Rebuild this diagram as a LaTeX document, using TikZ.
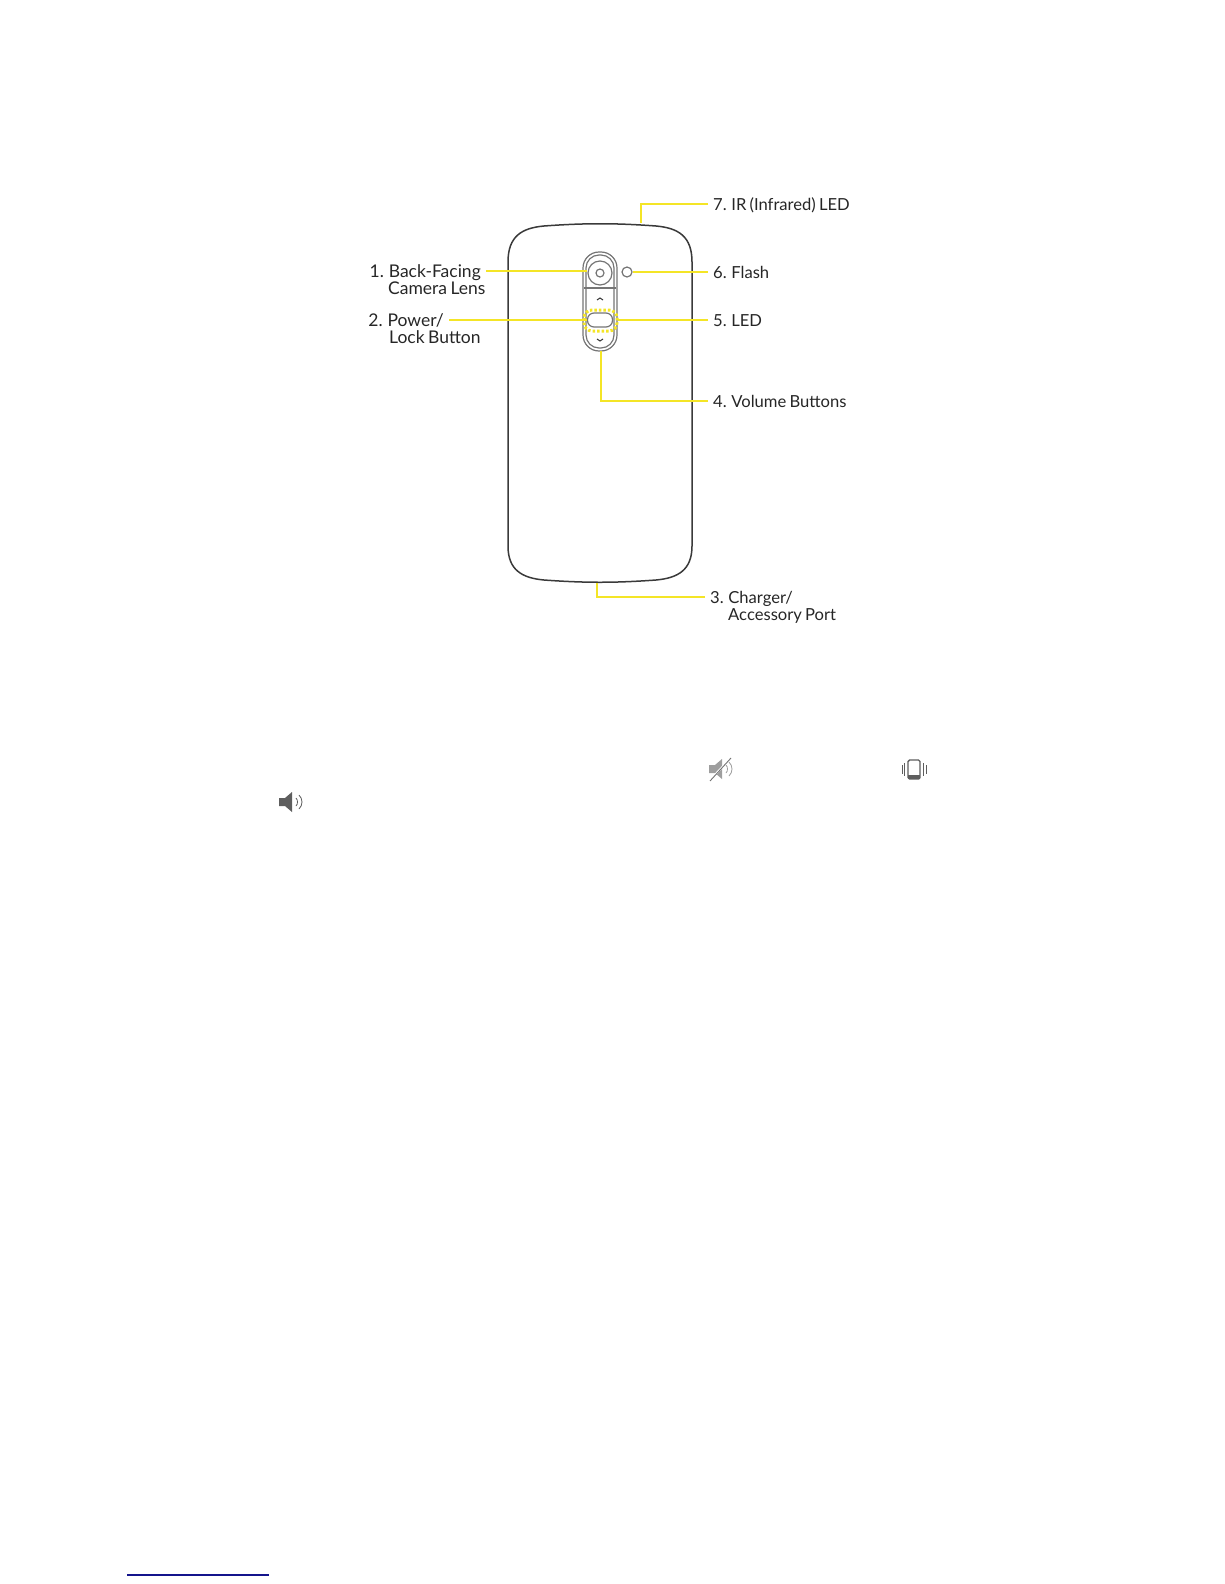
\documentclass[tikz,border=0pt]{standalone}
\usepackage{fontspec}
\setmainfont[WordSpace=0.75]{Lato}
\usepackage{tikz}
\usetikzlibrary{positioning, calc}
\definecolor{ledyellow}{HTML}{F4E526}
\definecolor{phonegrey}{HTML}{3A3A3A}
\definecolor{icongrey}{HTML}{5E5E5E}
\definecolor{linknavy}{HTML}{14148C}
\tikzset{
  ledline/.style={draw=ledyellow, line width=2.7pt},
  partline/.style={draw=phonegrey!70, line width=1.2pt},
  calltext/.style={inner xsep=5pt, inner ysep=0pt, text height=14pt, text depth=1pt, text=black!85, font=\fontsize{17.5}{20}\selectfont},
  callright/.style={calltext, font=\fontsize{16.6}{20}\selectfont},
}
\newcommand{\speakershape}[1]{
  \fill[#1] (0,6) -- (6,6) -- (13,0) -- (13,20) -- (6,14) -- (0,14) -- cycle;
  \draw[#1, line width=0.8pt] (17,6) .. controls (19,8) and (19,12) .. (17,14);
  \draw[#1, line width=0.8pt] (20,3) .. controls (24,7) and (24,13) .. (20,17);
}
\begin{document}
\begin{tikzpicture}[x=1pt,y=-1pt,>=stealth]
\useasboundingbox (0,0) rectangle (1224,1584);

% --- Phone body
\draw[phonegrey, line width=1.5pt] (508,262)
  .. controls (508,236) and (522,228) .. (544,226)
  .. controls (585,223) and (615,223) .. (656,226)
  .. controls (678,228) and (692,236) .. (692,262)
  -- (692,546)
  .. controls (692,570) and (678,578) .. (656,580)
  .. controls (615,583) and (585,583) .. (544,580)
  .. controls (522,578) and (508,570) .. (508,546) -- cycle;

% --- Camera and button strip
\draw[partline, rounded corners=16pt] (583,252) rectangle (617,351);
\draw[partline, rounded corners=13pt] (586,255) rectangle (614,348);
\draw[partline] (584,288) -- (616,288);
\node[circle, partline, minimum size=24pt, inner sep=0pt] (lens) at (600,273) {};
\node[circle, partline, minimum size=8pt, inner sep=0pt] at (600,273) {};
\node[circle, partline, minimum size=10pt, inner sep=0pt] (flash) at (627,272) {};
\draw[phonegrey, line width=1pt] (597,300) -- (600,298) -- (603,300);
\draw[phonegrey, line width=1pt] (597,339) -- (600,341) -- (603,339);

% --- Power button with LED ring
\draw[ledyellow, line width=3pt, dash pattern=on 2.5pt off 2pt, rounded corners=8pt] (584,310) rectangle (617,331);
\node[rectangle, rounded corners=6.5pt, partline, fill=white, minimum width=25pt, minimum height=14pt, inner sep=0pt] (powerbtn) at (600,320) {};

% --- Free ends on the body
\coordinate (irpt) at (641,223);
\coordinate (portpt) at (597,583);
\coordinate (volpt) at (601,351);
\coordinate (ledpt) at (618,320);

% --- Labels on the left
\node[calltext, left] (lab1) at (486,271) {1. Back-Facing};
\node[calltext, right] (lab1b) at (383,288) {Camera Lens};
\node[calltext, left] (lab2) at (449,320) {2. Power/};
\node[calltext, right] (lab2b) at (384,337) {Lock Button};

% --- Labels on the right
\node[callright, right] (lab7) at (708,204) {7. IR (Infrared) LED};
\node[callright, right] (lab6) at (708,272) {6. Flash};
\node[callright, right] (lab5) at (708,320) {5. LED};
\node[callright, right] (lab4) at (708,401) {4. Volume Buttons};
\node[callright, right] (lab3) at (705,597) {3. Charger/};
\node[callright, right] (lab3b) at (723,614) {Accessory Port};

% --- Yellow call-out lines
\draw[ledline] (lab1.east) -- (lab1.east -| lens.west);
\draw[ledline] (lab2.east) -- (powerbtn.west);
\draw[ledline] (lab3.west) -| (portpt);
\draw[ledline] (lab4.west) -| (volpt);
\draw[ledline] (lab5.west) -- (ledpt);
\draw[ledline] (lab6.west) -- (flash.east);
\draw[ledline] (lab7.west) -| (irpt);

% --- Sound icons in the text below
\begin{scope}[shift={(709,759)}]
  \speakershape{black!38}
  \draw[white, line width=2pt] (1,21) -- (21,0);
  \draw[black!55, line width=0.9pt] (1,22) -- (22,-1);
\end{scope}
\begin{scope}[shift={(279,792)}]
  \speakershape{icongrey}
\end{scope}

% --- Vibrate icon
\draw[icongrey, line width=1.4pt, rounded corners=1.5pt] (908,760) rectangle (920,779);
\fill[icongrey] (908,775) rectangle (920,779);
\draw[icongrey, line width=0.9pt] (904.5,763) -- (904.5,776);
\draw[icongrey, line width=0.9pt] (902,765) -- (902,774);
\draw[icongrey, line width=0.9pt] (923.5,763) -- (923.5,776);
\draw[icongrey, line width=0.9pt] (926,765) -- (926,774);

% --- Link underline
\draw[linknavy, line width=1.3pt] (127,1575) -- (269,1575);
\end{tikzpicture}
\end{document}
